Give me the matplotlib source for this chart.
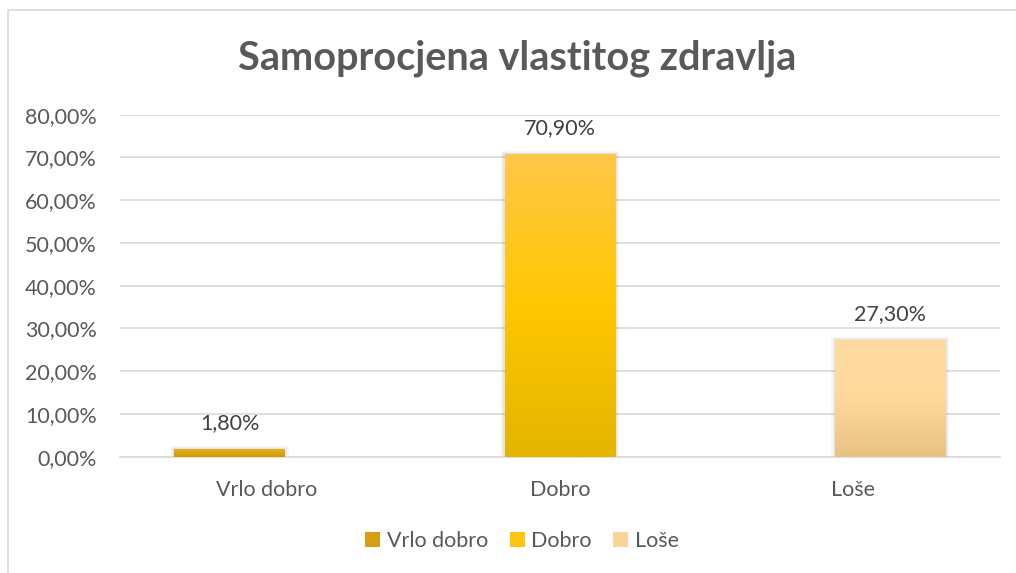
import numpy as np
import matplotlib
matplotlib.use("Agg")
import matplotlib.pyplot as plt
from matplotlib.colors import LinearSegmentedColormap
from matplotlib.patches import Rectangle, Patch

# ---- data ----
categories = ["Vrlo dobro", "Dobro", "Loše"]
series_names = ["Vrlo dobro", "Dobro", "Loše"]
vrlo_dobro = [1.8, 0, 0]
dobro = [0, 70.9, 0]
lose = [0, 0, 27.3]
y_ticks = [0, 10, 20, 30, 40, 50, 60, 70, 80]
title = "Samoprocjena vlastitog zdravlja"

series_values = [vrlo_dobro, dobro, lose]
# gradient colours (bottom, middle, top)
grads = [
    ["#D39A00", "#DBA30E", "#E3AD2A"],
    ["#E3B500", "#FFC700", "#FFC84A"],
    ["#E6C283", "#FFD99B", "#FFDBA0"],
]
legend_cols = ["#D89E12", "#FFC512", "#FAD597"]

plt.rcParams['font.family'] = ['Lato', 'DejaVu Sans']
TXT = "#595959"
GRID = "#D9D9D9"
FS = 15.5

fig = plt.figure(figsize=(10.16, 5.73), dpi=100)
ax = fig.add_axes([120/1016, 1-456.7/573, 880/1016, (456.7-114.7)/573])

x = np.arange(len(categories))
width = 0.378
offsets = [-0.126, 0.0, 0.126]

for j, vals in enumerate(series_values):
    bars = ax.bar(x + offsets[j], vals, width=width, color="none", edgecolor="none", zorder=3)
    cmap = LinearSegmentedColormap.from_list(f"g{j}", grads[j])
    grad = np.linspace(0, 1, 256).reshape(-1, 1)
    for b, v in zip(bars, vals):
        if v <= 0:
            continue
        x0, y0 = b.get_x(), b.get_y()
        w, h = b.get_width(), b.get_height()
        # soft shadow
        for k, a in enumerate([0.04, 0.035, 0.03]):
            dx = 0.004 * (k + 1)
            ax.add_patch(Rectangle((x0 - dx, y0), w + 2 * dx, h + 0.2 * (k + 1),
                                   facecolor="#000000", alpha=a, edgecolor="none", zorder=2.5))
        im = ax.imshow(grad, extent=[x0, x0 + w, y0, y0 + h], origin="lower",
                       cmap=cmap, aspect="auto", zorder=3.2, interpolation="bilinear")
        im.set_clip_path(b)
        lbl = f"{v:.2f}".replace(".", ",") + "%"
        ax.annotate(lbl, (x0 + w / 2, y0 + h), xytext=(0, 18.5), textcoords="offset points",
                    ha="center", va="center", fontsize=FS, color="#404040", zorder=5)

ax.set_xlim(-0.5, len(categories) - 0.5)
ax.set_ylim(0, 80)
ax.set_yticks(y_ticks)
ax.set_yticklabels([f"{t:.2f}".replace(".", ",") + "%" for t in y_ticks])
ax.set_xticks(x)
ax.set_xticklabels(categories)
ax.tick_params(axis="y", length=0, pad=16.5, labelsize=FS, labelcolor=TXT)
ax.tick_params(axis="x", length=0, pad=16.5, labelsize=FS, labelcolor=TXT)
ax.grid(axis="y", color=GRID, linewidth=1.2, zorder=0)
ax.set_axisbelow(True)
for s in ["top", "right", "left"]:
    ax.spines[s].set_visible(False)
ax.spines["bottom"].set_color(GRID)
ax.spines["bottom"].set_linewidth(1.2)

fig.text(0.509, 1 - 58/573, title, ha="center", va="center", fontsize=28.5,
         fontweight="bold", color=TXT)

handles = [Patch(facecolor=c, edgecolor="none") for c in legend_cols]
fig.legend(handles, series_names, loc="center", bbox_to_anchor=(522/1016, 1 - 541/573),
           ncol=3, frameon=False, fontsize=FS, labelcolor=TXT, handlelength=0.7,
           handleheight=0.7, handletextpad=0.3, columnspacing=1.0)

fig.patches.append(Rectangle((8/1016, -0.1), 1.2, (573 - 10)/573 + 0.1, transform=fig.transFigure,
                             fill=False, edgecolor=GRID, linewidth=1.2))

fig.savefig("out.png", dpi=100, facecolor="white")
